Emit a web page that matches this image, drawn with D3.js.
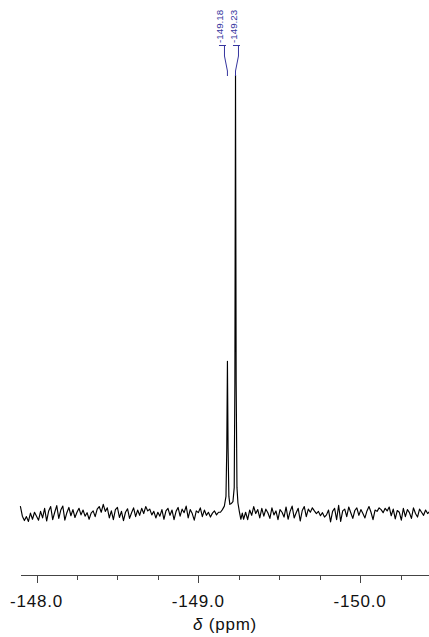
<!DOCTYPE html>
<html>
<head>
<meta charset="utf-8">
<script src="https://cdn.jsdelivr.net/npm/d3@7"></script>
<style>
  html, body { margin: 0; padding: 0; background: #fff; }
  svg { display: block; }
</style>
</head>
<body>
<svg id="chart" width="429" height="637"></svg>
<script>
// 19F NMR spectrum (ppm axis runs right-to-left, toward more negative shift)

// Baseline noise left of the signals: start ppm, step, intensities
const noiseLeftStart = -147.900;
const noiseStep = 0.0125;
const noiseLeft = [1.8, -0.5, -1.5, -0.6, -1.7, 0.2, -1.2, 0.4, -0.5, -1.4,
  0.6, -0.9, 1.3, -1.6, 0.7, 1.7, -1.3, 0.4, 1.9, -1.0,
  0.9, 1.8, -1.4, 0.3, 1.5, -0.4, 1.0, -0.8, 0.4, 1.3,
  -0.2, 0.9, -0.5, 0.3, -1.2, 0.2, 0.7, -0.6, 1.1, 1.7,
  0.4, 2.2, 0.6, 1.4, -0.9, 0.7, -1.3, 1.0, 1.5, -0.8,
  0.6, -1.5, 0.4, 1.2, -1.0, 0.3, 1.4, -0.6, 0.9, -0.3,
  1.3, 0.1, 1.7, 0.7, 1.1, -0.2, 0.6, -0.9, 0.4, -0.5,
  1.0, -1.2, 0.7, 1.3, -0.3, 0.9, -1.3, 0.6, 1.5, -0.5,
  1.1, 0.3, 1.8, -0.9, 1.0, 0.1, -1.4, 0.7, 0.3, 1.4,
  -0.6, 0.9, -0.3, 0.4, -0.7, 0.2, 0.7, -0.2, 0.4];

// Signal region around the two resonances
const peakPpm = [-149.137, -149.149, -149.161, -149.171, -149.176, -149.180, -149.184,
  -149.189, -149.195, -149.205, -149.214, -149.222, -149.226, -149.230, -149.234,
  -149.239, -149.245, -149.254, -149.263, -149.272];
const peakInt = [0.4, 1.0, 1.8, 4.0, 15, 34.8, 15,
  4.0, 2.2, 2.4, 2.8, 6.0, 30, 100, 30,
  6.0, 2.5, 0.5, -1.2, 0.2];

// Baseline noise right of the signals
const noiseRightStart = -149.280;
const noiseRight = [-1.2, 0.4, -1.3, 0.9, -0.3, 1.7, 0.1, 1.0, -0.9, 1.3,
  -0.5, 1.1, 0.3, -1.0, 1.4, -0.2, 0.7, -1.3, 1.0, 0.4,
  -0.7, 1.6, -1.2, 0.6, 1.8, -0.9, 0.3, 1.3, -1.6, 0.8,
  1.7, -0.6, 1.1, 0.4, 1.4, 0.7, 0.1, 0.6, -0.4, 0.3,
  -0.7, -0.2, 0.9, -1.8, 0.6, 1.3, -1.3, 2.0, -1.7, 0.7,
  1.1, -0.6, 1.6, 0.3, -1.0, 0.8, 1.4, -0.3, 1.0, 0.1,
  -0.9, 0.7, 1.7, 0.4, -1.3, 0.9, 0.6, 1.4, 1.0, 0.3,
  1.3, 0.7, 1.6, -0.4, 1.1, -1.1, 0.8, 0.4, -1.4, 1.3,
  -0.6, 1.0, 0.3, -1.0, 1.4, 0.1, -0.7, 1.1, 0.4, -0.3,
  0.9, 0.1, 0.6];

// Peak annotations
const peakLabels = ["-149.18", "-149.23"];
const labelPpm = [-149.18, -149.23];

// Axis ticks
const majorTicks = [-148.0, -149.0, -150.0];
const majorTickLabels = ["-148.0", "-149.0", "-150.0"];
const minorTicks = [-147.75, -148.25, -148.5, -148.75, -149.25, -149.5, -149.75, -150.25];
const axisTitle = "(ppm)";

// ---------------------------------------------------------------
const svg = d3.select("#chart");
const font = "Arial, 'Liberation Sans', sans-serif";

const x = d3.scaleLinear().domain([-147.904, -150.426]).range([21, 429]);
const y = d3.scaleLinear().domain([0, 100]).range([514, 75]);

const spectrum = [];
noiseLeft.forEach((v, i) => spectrum.push([noiseLeftStart - i * noiseStep, v]));
peakPpm.forEach((p, i) => spectrum.push([p, peakInt[i]]));
noiseRight.forEach((v, i) => spectrum.push([noiseRightStart - i * noiseStep, v]));

svg.append("path")
  .datum(spectrum)
  .attr("fill", "none")
  .attr("stroke", "#000")
  .attr("stroke-width", 1.15)
  .attr("stroke-linejoin", "round")
  .attr("d", d3.line().x(d => x(d[0])).y(d => y(d[1])));

// x axis
const axisY = 575.5;
svg.append("line")
  .attr("x1", 21).attr("x2", 429)
  .attr("y1", axisY).attr("y2", axisY)
  .attr("stroke", "#444").attr("stroke-width", 1);

svg.selectAll(".major")
  .data(majorTicks).enter().append("line")
  .attr("x1", d => Math.round(x(d)) + 0.5).attr("x2", d => Math.round(x(d)) + 0.5)
  .attr("y1", axisY).attr("y2", axisY + 7.5)
  .attr("stroke", "#444");

svg.selectAll(".minor")
  .data(minorTicks).enter().append("line")
  .attr("x1", d => Math.round(x(d)) + 0.5).attr("x2", d => Math.round(x(d)) + 0.5)
  .attr("y1", axisY).attr("y2", axisY + 4.5)
  .attr("stroke", "#444");

svg.selectAll(".tlabel")
  .data(majorTicks).enter().append("text")
  .attr("x", d => x(d))
  .attr("y", 607)
  .attr("text-anchor", "middle")
  .attr("font-family", font)
  .attr("font-size", 17)
  .attr("letter-spacing", 0.8)
  .attr("fill", "#111")
  .text((d, i) => majorTickLabels[i]);

const title = svg.append("text")
  .attr("x", 225).attr("y", 630)
  .attr("text-anchor", "middle")
  .attr("font-family", font)
  .attr("font-size", 17)
  .attr("letter-spacing", 0.8)
  .attr("fill", "#111");
title.append("tspan").attr("font-style", "italic").text("δ");
title.append("tspan").text(" " + axisTitle);

// peak annotations
const blue = "#35359e";
const peakX = labelPpm.map(p => x(p));
const mid = (peakX[0] + peakX[1]) / 2;
const spread = 14;
labelPpm.forEach((p, i) => {
  const cx = mid + (i - (labelPpm.length - 1) / 2) * spread;
  const px = x(p);
  svg.append("path")
    .attr("fill", "none")
    .attr("stroke", blue)
    .attr("stroke-width", 1)
    .attr("d", `M${cx - 5.5},45.5 H${cx + 1.5} M${cx},45.5 V56 L${px},71 V76`);
  svg.append("text")
    .attr("transform", `translate(${cx - 1.5},43) rotate(-90)`)
    .attr("font-family", font)
    .attr("font-size", 9.8)
    .attr("fill", blue)
    .text(peakLabels[i]);
});
</script>
</body>
</html>
